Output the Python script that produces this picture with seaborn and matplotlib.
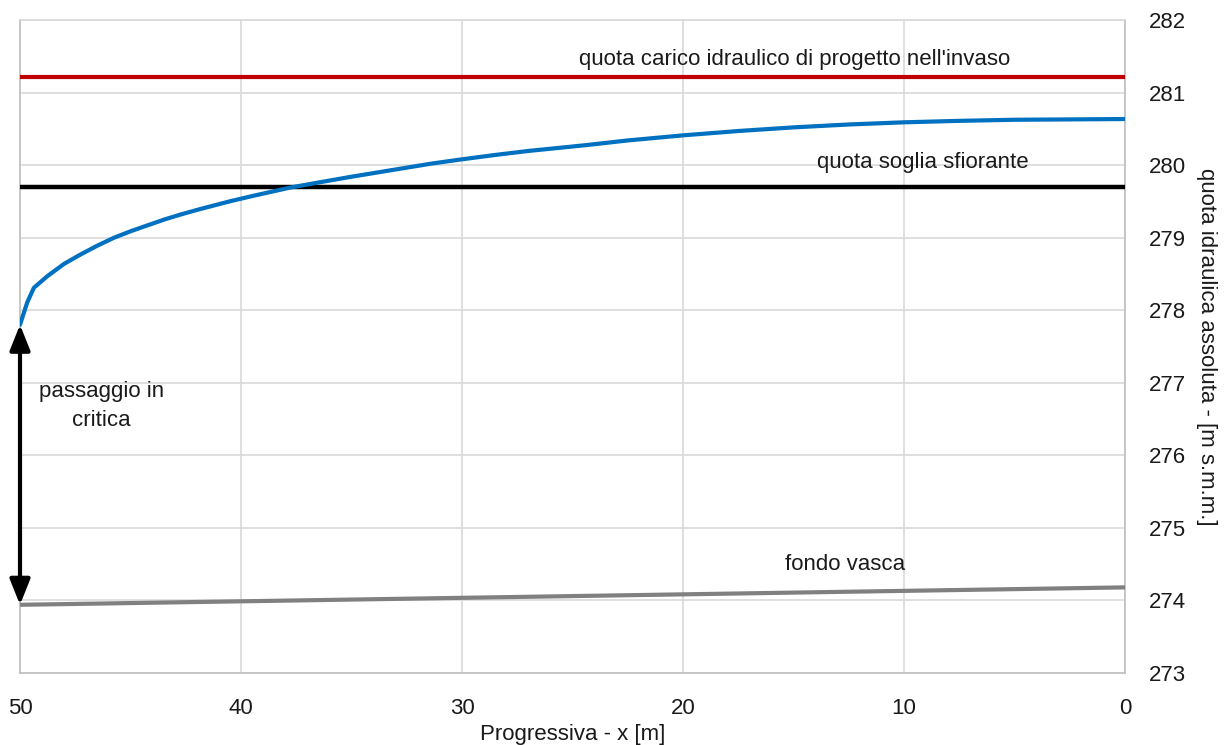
import matplotlib
matplotlib.use("Agg")
import matplotlib.pyplot as plt
import seaborn as sns
import pandas as pd

# ---- data ----
x_profile = [50, 49.67, 49.37, 48.76, 48.0, 47.25, 46.50, 45.74, 44.98, 44.23, 43.47, 42.72,
             41.96, 41.21, 40.45, 39.40, 37.78, 36.5, 35.0, 34.0, 32.8, 31.4, 30.0, 28.5, 27.0,
             25.7, 24.4, 22.5, 20.0, 17.5, 15.0, 12.5, 10.0, 7.5, 5.0, 2.5, 0.0]
y_profile = [277.80, 278.11, 278.31, 278.47, 278.64, 278.77, 278.89, 279.00, 279.09, 279.17, 279.25, 279.32,
             279.385, 279.445, 279.505, 279.58, 279.69, 279.76, 279.84, 279.89, 279.95, 280.02, 280.08, 280.14, 280.195,
             280.235, 280.275, 280.34, 280.41, 280.47, 280.52, 280.56, 280.59, 280.61, 280.625, 280.63, 280.635]
x_bottom = [50, 0]
y_bottom = [273.94, 274.18]
x_levels = [50, 0]
quota_carico = 281.21
quota_soglia = 279.70
x_ticks = [50, 40, 30, 20, 10, 0]
y_ticks = [273, 274, 275, 276, 277, 278, 279, 280, 281, 282]

sns.set_theme(style="white")
plt.rcParams['font.family'] = ['Liberation Sans', 'DejaVu Sans']

fig = plt.figure(figsize=(12.25, 7.45), dpi=100)
ax = fig.add_axes([20/1225, 1-673/745, (1125-20)/1225, (673-20)/745])

df_prof = pd.DataFrame({"x": x_profile, "y": y_profile})
df_bot = pd.DataFrame({"x": x_bottom, "y": y_bottom})
df_red = pd.DataFrame({"x": x_levels, "y": [quota_carico]*2})
df_blk = pd.DataFrame({"x": x_levels, "y": [quota_soglia]*2})

sns.lineplot(data=df_red, x="x", y="y", ax=ax, color="#C00000", lw=3, zorder=3)
sns.lineplot(data=df_blk, x="x", y="y", ax=ax, color="#000000", lw=3.2, zorder=3)
sns.lineplot(data=df_bot, x="x", y="y", ax=ax, color="#808080", lw=3, zorder=3)
sns.lineplot(data=df_prof, x="x", y="y", ax=ax, color="#0070C0", lw=3, zorder=4)

ax.annotate("", xy=(x_profile[0], y_profile[0]), xytext=(x_bottom[0], y_bottom[0]),
            arrowprops=dict(arrowstyle="<|-|>,head_length=0.7,head_width=0.28", color="black", lw=3,
                            mutation_scale=22, shrinkA=0, shrinkB=0), zorder=5)

ax.set_xlim(50, 0)
ax.set_ylim(273, 282)
ax.set_xticks(x_ticks)
ax.set_yticks(y_ticks)
ax.grid(True, color="#d9d9d9", lw=1.2)
ax.yaxis.tick_right()
ax.yaxis.set_label_position("right")
ax.tick_params(axis="both", length=0, labelsize=16, colors="#1a1a1a")
ax.tick_params(axis="x", pad=18)
ax.tick_params(axis="y", pad=17)
for s in ax.spines.values():
    s.set_color("#bfbfbf")
    s.set_linewidth(1.2)
ax.spines["top"].set_color("#d9d9d9")

ax.set_xlabel("Progressiva - x [m]", fontsize=16, color="#1a1a1a")
ax.xaxis.set_label_coords(0.5, -0.078)
ax.set_ylabel("quota idraulica assoluta - [m s.m.m.]", fontsize=16, color="#1a1a1a",
              rotation=270)
ax.yaxis.set_label_coords(1.083, 0.5)

tk = dict(fontsize=16, color="#1a1a1a", ha="center", va="center")
ax.text(14.93, 281.45, "quota carico idraulico di progetto nell'invaso", **tk)
ax.text(9.14, 280.03, "quota soglia sfiorante", **tk)
ax.text(12.67, 274.49, "fondo vasca", **tk)
ax.text(46.3, 276.68, "passaggio in\ncritica", linespacing=1.45, **tk)

fig.savefig("out.png", dpi=100)
